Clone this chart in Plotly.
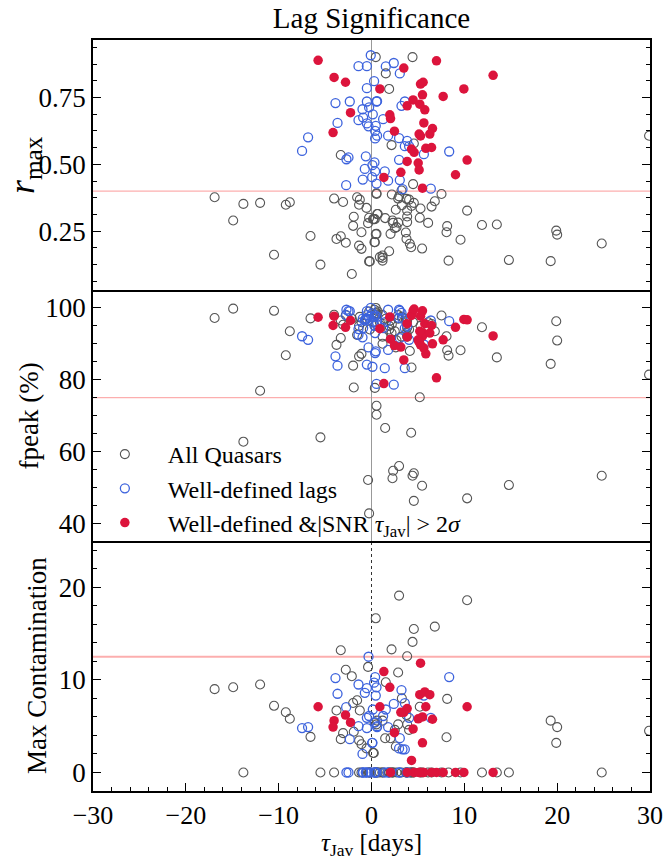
import plotly.graph_objects as go
from plotly.subplots import make_subplots

# ---------------- data ----------------
# All quasars (not well-defined)
gray_tau = [0.46, -3.31, -16.9, -13.8, -12.0, -9.23, -8.8, -14.9, -4.03, -3.06,
            -1.55, -1.26, -1.34, -0.54, 0.54, 0.6, -1.91, -0.26, 0.17, 0.36,
            -0.37, -1.98, -1.08, 0.54, -6.57, -3.31, -3.77, -2.77, -1.34, -1.08,
            0.36, -10.5, -5.5, -0.26, -2.12, 0.9, 4.42, 1.54, 1.9, 29.9,
            2.16, 4.56, 4.48, 0.54, 2.19, 2.87, 3.23, 3.77, 4.05, 7.54,
            6.82, 6.47, 3.27, 4.31, 4.56, 3.84, 5.28, 10.3, 0.68, 0.25,
            1.47, 3.84, 3.84, 2.33, 2.87, 2.69, 2.51, 6.1, 8.15, 8.08,
            11.9, 13.5, 19.9, 20.0, 9.59, 24.8, 0.46, 2.05, 3.7, 3.77,
            4.13, 4.27, 5.45, 0.32, 1.9, 1.19, 1.19, 1.19, -0.18, 8.3,
            14.8, 19.3, 2.97, 2.26, 5.2, 2.62]
gray_rmax = [0.901, 0.535, 0.377, 0.352, 0.356, 0.349, 0.358, 0.290, 0.372, 0.359,
             0.377, 0.368, 0.349, 0.337, 0.389, 0.314, 0.304, 0.300, 0.295, 0.295,
             0.280, 0.270, 0.246, 0.240, 0.232, 0.231, 0.221, 0.207, 0.196, 0.184,
             0.209, 0.162, 0.125, 0.137, 0.090, 0.153, 0.901, 0.840, 0.782, 0.607,
             0.572, 0.578, 0.426, 0.392, 0.387, 0.372, 0.402, 0.371, 0.368, 0.389,
             0.362, 0.342, 0.347, 0.344, 0.356, 0.327, 0.335, 0.327, 0.314, 0.295,
             0.299, 0.305, 0.284, 0.281, 0.282, 0.265, 0.261, 0.281, 0.269, 0.246,
             0.273, 0.275, 0.252, 0.237, 0.218, 0.204, 0.239, 0.240, 0.245, 0.221,
             0.203, 0.190, 0.185, 0.209, 0.175, 0.159, 0.150, 0.140, 0.137, 0.140,
             0.142, 0.138, 0.380, 0.290, 0.300, 0.330]
gray_fpeak = [100.0, 91.6, 97.2, 62.7, 76.9, 86.8, 93.5, 99.8, 98.1, 95.3,
              92.5, 97.5, 86.5, 97.0, 70.2, 98.5, 77.8, 99.0, 96.0, 95.0,
              52.0, 83.9, 87.2, 72.7, 97.1, 96.5, 89.7, 98.0, 95.0, 96.0,
              77.7, 99.2, 63.9, 42.7, 97.0, 96.0, 53.2, 97.0, 95.0, 81.4,
              93.0, 53.9, 96.0, 98.0, 95.5, 98.0, 92.0, 96.0, 94.0, 97.9,
              93.5, 95.5, 97.5, 83.4, 46.2, 96.5, 95.0, 46.9, 99.0, 97.5,
              66.5, 94.5, 92.0, 54.6, 97.0, 91.0, 93.5, 96.0, 88.2, 92.1,
              94.6, 86.2, 96.3, 90.9, 88.2, 53.2, 98.5, 96.5, 97.0, 93.0,
              88.0, 65.2, 50.4, 99.5, 94.0, 98.0, 92.0, 90.0, 94.0, 86.7,
              50.6, 84.4, 55.9, 52.5, 75.1, 89.0]
gray_cont = [16.65, 13.2, 9.0, 0.0, 9.5, 6.5, 5.8, 9.2, 0.0, 4.25,
             7.8, 6.7, 3.45, 2.6, 5.2, 5.6, 4.4, 0.0, 2.1, 0.0,
             11.4, 7.5, 3.05, 0.0, 3.85, 3.6, 6.7, 11.1, 0.0, 0.0,
             0.0, 7.2, 0.0, 0.0, 10.4, 0.0, 14.1, 9.75, 0.0, 4.5,
             13.3, 15.5, 0.0, 0.0, 0.0, 5.2, 0.0, 6.2, 4.6, 0.0,
             15.75, 0.0, 8.0, 0.0, 0.0, 12.55, 0.0, 18.6, 0.0, 2.1,
             3.7, 0.0, 5.2, 0.0, 10.8, 0.0, 4.6, 0.0, 7.95, 3.8,
             0.0, 0.0, 3.2, 4.9, 0.0, 0.0, 0.0, 3.7, 0.0, 0.0,
             0.0, 0.0, 0.0, 5.4, 0.0, 5.6, 0.0, 0.0, 0.0, 0.0,
             0.0, 5.6, 19.1, 0.0, 7.1, 2.8]

# Well-defined lags
blue_tau = [-0.08, -1.4, -0.5, 0.28, -0.5, -3.88, -2.34, -0.5, 0.54, -0.97,
            -0.26, 0.14, -1.4, -0.9, -3.66, -0.5, -0.32, 0.46, 0.39, 0.6,
            0.39, -6.83, -7.48, -2.7, -2.48, -0.61, 0.32, 0.1, -0.72, 0.39,
            0.07, -0.94, 0.54, -2.73, 2.4, 1.54, 3.05, 0.6, 3.59, 3.23,
            1.25, 1.79, 2.97, 3.84, 3.59, 4.05, 5.64, 8.37, 2.97, 1.43,
            3.05, 1.79, 3.34, 6.39]
blue_rmax = [0.908, 0.867, 0.867, 0.811, 0.785, 0.729, 0.735, 0.735, 0.735, 0.706,
             0.713, 0.687, 0.665, 0.675, 0.655, 0.653, 0.642, 0.644, 0.625, 0.607,
             0.597, 0.601, 0.550, 0.519, 0.526, 0.530, 0.507, 0.497, 0.483, 0.474,
             0.452, 0.443, 0.428, 0.422, 0.879, 0.866, 0.840, 0.736, 0.735, 0.719,
             0.669, 0.607, 0.598, 0.588, 0.568, 0.568, 0.538, 0.548, 0.517, 0.474,
             0.441, 0.439, 0.407, 0.409]
blue_fpeak = [100.0, 94.1, 99.1, 97.5, 97.0, 86.5, 99.1, 84.2, 78.8, 91.8,
              97.5, 96.0, 92.5, 94.4, 83.9, 98.0, 89.0, 87.9, 87.4, 96.0,
              98.0, 91.1, 92.1, 99.5, 99.1, 97.0, 95.0, 83.6, 96.5, 93.0,
              98.5, 97.0, 95.5, 98.0, 78.6, 96.1, 99.2, 97.5, 94.4, 98.6,
              94.4, 99.5, 97.2, 95.0, 83.2, 91.1, 89.8, 96.3, 99.5, 83.2,
              91.6, 88.3, 97.0, 96.5]
blue_cont = [0.0, 9.5, 0.0, 9.7, 4.8, 10.2, 3.6, 9.1, 9.2, 2.0,
             6.1, 6.8, 5.0, 0.0, 8.5, 5.9, 12.5, 8.3, 10.3, 5.0,
             5.4, 4.9, 4.8, 0.0, 0.0, 0.0, 0.0, 3.2, 8.6, 0.0,
             3.2, 0.0, 0.0, 7.05, 7.4, 6.8, 3.7, 4.9, 7.5, 8.9,
             6.1, 4.9, 2.6, 0.0, 2.5, 5.9, 8.3, 10.3, 0.0, 0.0,
             0.0, 0.0, 2.5, 5.9]

# Well-defined & |SNR tau| > 2 sigma
red_tau = [-5.75, -4.03, -2.8, -2.26, -4.14, 0.9, 7.0, 3.48, 13.1, 5.28,
           5.56, 9.95, 5.49, 7.72, 4.48, 3.84, 5.2, 5.74, 1.97, 2.05,
           5.64, 6.57, 6.28, 2.47, 5.13, 5.28, 4.31, 4.59, 5.85, 6.47,
           10.3, 3.84, 5.03, 5.13, 3.16, 1.33, 9.05, 5.49]
red_rmax = [0.889, 0.825, 0.807, 0.693, 0.619, 0.782, 0.887, 0.860, 0.833, 0.800,
            0.807, 0.782, 0.760, 0.754, 0.741, 0.719, 0.725, 0.704, 0.685, 0.671,
            0.655, 0.634, 0.613, 0.624, 0.613, 0.606, 0.557, 0.545, 0.560, 0.563,
            0.516, 0.511, 0.505, 0.479, 0.470, 0.451, 0.461, 0.411]
red_fpeak = [97.4, 97.7, 94.6, 96.5, 95.1, 94.2, 80.5, 85.5, 92.2, 97.7,
             93.0, 96.8, 92.1, 91.1, 99.2, 95.6, 93.5, 95.6, 97.5, 91.3,
             88.8, 90.0, 93.0, 89.5, 90.7, 89.7, 97.9, 99.7, 87.2, 95.1,
             96.7, 91.9, 91.1, 90.5, 89.1, 78.9, 94.6, 99.2]
red_cont = [7.1, 5.6, 6.2, 5.4, 4.9, 7.1, 0.0, 6.5, 0.0, 11.8,
            0.0, 0.0, 6.0, 0.0, 4.7, 6.9, 8.4, 8.7, 9.2, 0.0,
            0.0, 5.75, 8.4, 4.3, 0.0, 0.0, 1.3, 0.0, 7.1, 0.0,
            7.1, 0.0, 5.8, 0.0, 6.5, 10.9, 0.0, 3.2]

thresholds = [0.4, 75.0, 12.5]
y_ranges = [[0.03, 0.965], [35, 105], [-2, 25]]
x_range = [-30, 30]

# ---------------- figure ----------------
FONT = "Times New Roman, Times, serif"
GRAY, BLUE, RED = "#555555", "#3d63dd", "#dc143c"

fig = make_subplots(rows=3, cols=1, shared_xaxes=True, vertical_spacing=0)

panels = [
    (gray_rmax, blue_rmax, red_rmax),
    (gray_fpeak, blue_fpeak, red_fpeak),
    (gray_cont, blue_cont, red_cont),
]
names = ["All Quasars", "Well-defined lags",
         "Well-defined &amp;|SNR <i>τ</i><sub>Jav</sub>| &gt; 2<i>σ</i>"]

for i, (gy, by, ry) in enumerate(panels):
    row = i + 1
    show = (row == 2)
    fig.add_trace(go.Scatter(x=gray_tau, y=gy, mode="markers", name=names[0],
                             showlegend=show, legendrank=1,
                             marker=dict(symbol="circle-open", size=9, color=GRAY,
                                         line=dict(width=1.1, color=GRAY))),
                  row=row, col=1)
    fig.add_trace(go.Scatter(x=blue_tau, y=by, mode="markers", name=names[1],
                             showlegend=show, legendrank=2,
                             marker=dict(symbol="circle-open", size=9, color=BLUE,
                                         line=dict(width=1.3, color=BLUE))),
                  row=row, col=1)
    fig.add_trace(go.Scatter(x=red_tau, y=ry, mode="markers", name=names[2],
                             showlegend=show, legendrank=3,
                             marker=dict(symbol="circle", size=9.5, color=RED,
                                         line=dict(width=0))),
                  row=row, col=1)

# domains (plot area 93..650 x 40..791 px)
doms = [[0.6671, 1.0], [0.3329, 0.6671], [0.0, 0.3329]]
ydt = [0.25, 20, 10]
ymin = [0.0625, 5, 2]
yfmt = [".2f", "d", "d"]
for i in range(3):
    ax = "yaxis" if i == 0 else f"yaxis{i+1}"
    xa = "xaxis" if i == 0 else f"xaxis{i+1}"
    fig.layout[ax].update(
        domain=doms[i], range=y_ranges[i], dtick=ydt[i], tick0=0, tickformat=yfmt[i],
        showline=True, linecolor="black", linewidth=1.5, mirror="ticks",
        ticks="inside", ticklen=8, tickwidth=1.2, tickcolor="black",
        minor=dict(ticks="inside", ticklen=4, dtick=ymin[i], tick0=0,
                   tickcolor="black", tickwidth=1),
        showgrid=False, zeroline=False, automargin=False,
        tickfont=dict(family=FONT, size=27, color="black"),
    )
    last = (i == 2)
    fig.layout[xa].update(
        range=x_range, showline=True, linecolor="black", linewidth=1.5,
        mirror=(i == 0),
        showgrid=False, zeroline=False, dtick=10, tick0=0, automargin=False,
        ticks="inside" if last else "", ticklen=8, tickwidth=1.2, tickcolor="black",
        showticklabels=last,
        minor=dict(ticks="inside" if last else "", ticklen=4, dtick=2, tick0=0,
                   tickcolor="black", tickwidth=1),
        tickfont=dict(family=FONT, size=26, color="black"),
    )

# threshold lines
yrefs = ["y", "y2", "y3"]
for i, t in enumerate(thresholds):
    fig.add_shape(type="line", xref="paper", x0=0, x1=1, yref=yrefs[i], y0=t, y1=t,
                  line=dict(color="rgba(250,120,120,0.6)", width=1.2 if i < 2 else 1.8),
                  layer="below")
# zero-lag vertical lines
for i in range(3):
    fig.add_shape(type="line", xref="x" if i == 0 else f"x{i+1}", x0=0, x1=0,
                  yref=f"{yrefs[i]} domain", y0=0, y1=1,
                  line=dict(color="#999999" if i < 2 else "#333333", width=1,
                            dash="solid" if i < 2 else "dot"),
                  layer="below")

# axis titles as annotations
ann = [
    dict(text="<i>r</i><sub>max</sub>", x=-0.122, y=0.8336, size=36),
    dict(text="fpeak (%)", x=-0.115, y=0.5, size=27),
    dict(text="Max Contamination", x=-0.1005, y=0.1664, size=27),
]
for a in ann:
    fig.add_annotation(text=a["text"], xref="paper", yref="paper", x=a["x"], y=a["y"],
                       xanchor="center", yanchor="middle", textangle=-90, showarrow=False,
                       font=dict(family=FONT, size=a["size"], color="black"))
fig.add_annotation(text="<i>τ</i><sub>Jav</sub> [days]", xref="paper", yref="paper",
                   x=0.5, y=-0.0715, xanchor="center", yanchor="middle", showarrow=False,
                   font=dict(family=FONT, size=25, color="black"))

fig.update_layout(
    width=665, height=859,
    margin=dict(l=93, r=15, t=40, b=68, autoexpand=False),
    paper_bgcolor="white", plot_bgcolor="white",
    font=dict(family=FONT, color="black"),
    title=dict(text="Lag Significance", x=0.5, xref="paper", y=1 - 18 / 859,
               yref="container", xanchor="center", yanchor="middle",
               font=dict(family=FONT, size=29, color="black")),
    legend=dict(x=-0.02, y=0.478, xanchor="left", yanchor="top",
                bgcolor="rgba(0,0,0,0)", borderwidth=0, itemwidth=76,
                font=dict(family=FONT, size=24, color="black")),
    showlegend=True,
)

fig.write_html("out.html")
